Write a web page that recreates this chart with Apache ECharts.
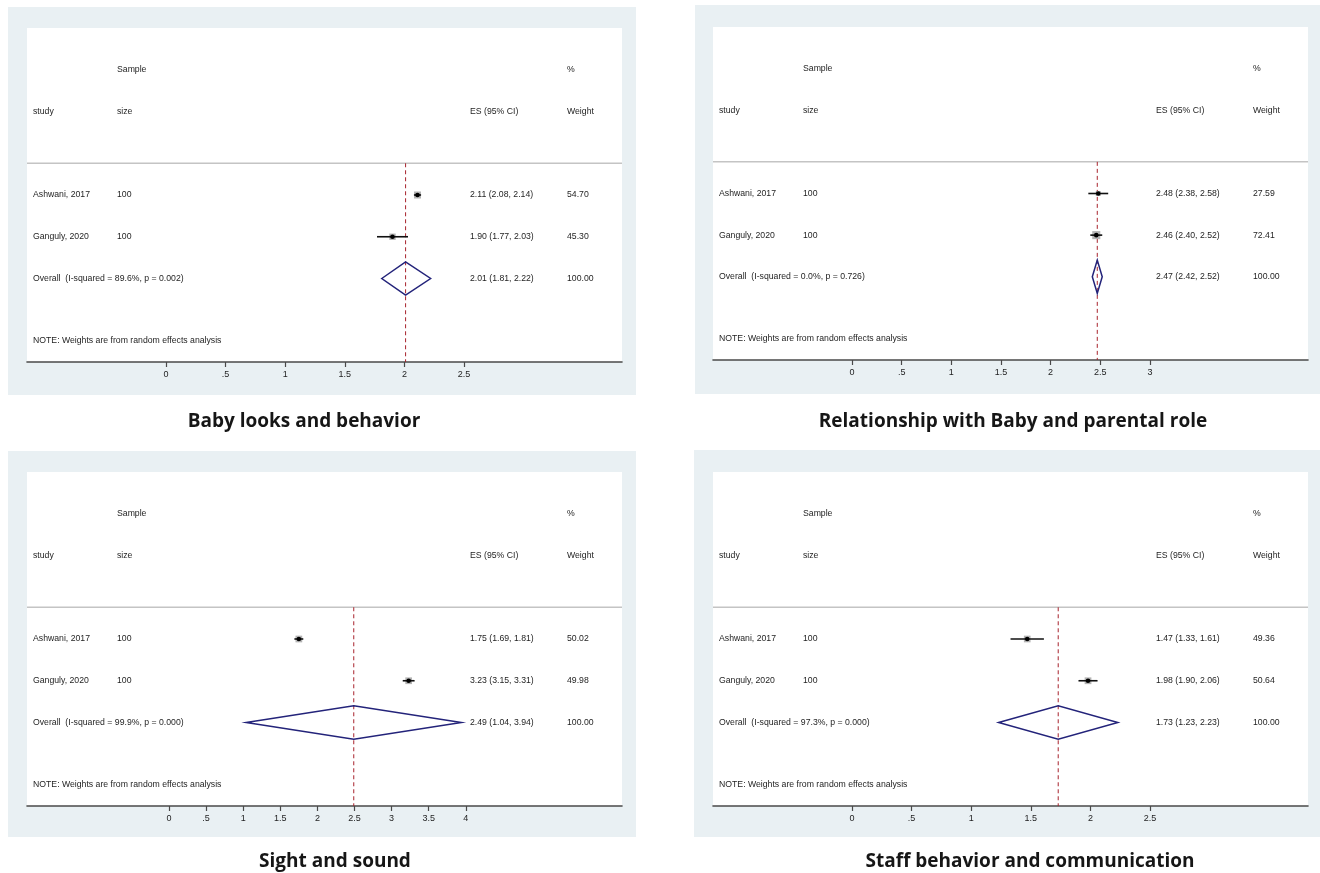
<!DOCTYPE html>
<html>
<head>
<meta charset="utf-8">
<script src="https://cdn.jsdelivr.net/npm/echarts@6/dist/echarts.min.js"></script>
<style>
  html, body { margin: 0; padding: 0; background: #ffffff; }
  #chart { width: 1320px; height: 873px; }
</style>
</head>
<body>
<div id="chart"></div>
<script>
// ---- data -------------------------------------------------------------
const studyNames = ['Ashwani, 2017', 'Ganguly, 2020'];
const sampleSizes = [100, 100];

// [ES, lower 95% CI, upper 95% CI] per study
const babyLooksEffects = [[2.11, 2.08, 2.14], [1.90, 1.77, 2.03]];
const babyLooksWeights = [54.70, 45.30];
const babyLooksPooled = [2.01, 1.81, 2.22];
const babyLooksHeterogeneity = ['89.6%', '0.002'];
const babyLooksTicks = [0, 0.5, 1, 1.5, 2, 2.5];

const relationshipEffects = [[2.48, 2.38, 2.58], [2.46, 2.40, 2.52]];
const relationshipWeights = [27.59, 72.41];
const relationshipPooled = [2.47, 2.42, 2.52];
const relationshipHeterogeneity = ['0.0%', '0.726'];
const relationshipTicks = [0, 0.5, 1, 1.5, 2, 2.5, 3];

const sightSoundEffects = [[1.75, 1.69, 1.81], [3.23, 3.15, 3.31]];
const sightSoundWeights = [50.02, 49.98];
const sightSoundPooled = [2.49, 1.04, 3.94];
const sightSoundHeterogeneity = ['99.9%', '0.000'];
const sightSoundTicks = [0, 0.5, 1, 1.5, 2, 2.5, 3, 3.5, 4];

const staffEffects = [[1.47, 1.33, 1.61], [1.98, 1.90, 2.06]];
const staffWeights = [49.36, 50.64];
const staffPooled = [1.73, 1.23, 2.23];
const staffHeterogeneity = ['97.3%', '0.000'];
const staffTicks = [0, 0.5, 1, 1.5, 2, 2.5];

const panelTitles = [
  'Baby looks and behavior',
  'Relationship with Baby and parental role',
  'Sight and sound',
  'Staff behavior and communication'
];

// ---- layout -----------------------------------------------------------
const panels = [
  { effects: babyLooksEffects, weights: babyLooksWeights, pooled: babyLooksPooled,
    het: babyLooksHeterogeneity, ticks: babyLooksTicks,
    box: [8, 7, 628, 388], grid: [27, 28, 595, 334], zeroOffset: 139, pxPerUnit: 119.2, titlePos: [304, 422] },
  { effects: relationshipEffects, weights: relationshipWeights, pooled: relationshipPooled,
    het: relationshipHeterogeneity, ticks: relationshipTicks,
    box: [695, 5, 625, 389], grid: [713, 27, 595, 333], zeroOffset: 139, pxPerUnit: 99.3, titlePos: [1013, 422] },
  { effects: sightSoundEffects, weights: sightSoundWeights, pooled: sightSoundPooled,
    het: sightSoundHeterogeneity, ticks: sightSoundTicks,
    box: [8, 451, 628, 386], grid: [27, 472, 595, 334], zeroOffset: 142, pxPerUnit: 74.2, titlePos: [335, 862] },
  { effects: staffEffects, weights: staffWeights, pooled: staffPooled,
    het: staffHeterogeneity, ticks: staffTicks,
    box: [694, 450, 626, 387], grid: [713, 472, 595, 334], zeroOffset: 139, pxPerUnit: 119.2, titlePos: [1030, 862] }
];

// rows on the vertical scale (one unit per table line)
const ROW_TOP_HEADER = -3, ROW_HEADER = -2, ROW_RULE = -0.76, ROW_NOTE = 3.48;
const ROW_MIN = -4, ROW_MAX = 4;
// table column offsets from the plot region's left edge
const COL_STUDY = 6, COL_SIZE = 90, COL_ES = 443, COL_WEIGHT = 540;

const TABLE_FONT = '8.7px "Liberation Sans", Arial, sans-serif';
const TEXT_COLOR = '#1e1e1e';

const fmt2 = v => v.toFixed(2);
const esText = e => `${fmt2(e[0])} (${fmt2(e[1])}, ${fmt2(e[2])})`;
const tickLabel = v => String(v).replace(/^0\./, '.');

const chart = echarts.init(document.getElementById('chart'), null, { renderer: 'canvas' });

const grids = [], xAxes = [], yAxes = [], series = [], graphics = [];

panels.forEach((p, i) => {
  const [gl, gt, gw, gh] = p.grid;
  graphics.push({
    type: 'rect', z: -10, silent: true,
    shape: { x: p.box[0], y: p.box[1], width: p.box[2], height: p.box[3] },
    style: { fill: '#e9f0f3' }
  });
  graphics.push({
    type: 'text', silent: true,
    x: p.titlePos[0], y: p.titlePos[1],
    style: {
      text: panelTitles[i], fill: '#161616',
      font: 'bold 19px "Open Sans", "Noto Sans", sans-serif',
      align: 'center', verticalAlign: 'middle'
    }
  });

  grids.push({
    left: gl, top: gt, width: gw, height: gh,
    show: true, backgroundColor: '#ffffff', borderWidth: 0
  });
  xAxes.push({
    type: 'value', gridIndex: i, position: 'bottom',
    min: -p.zeroOffset / p.pxPerUnit,
    max: (gw - p.zeroOffset) / p.pxPerUnit,
    axisLine: { show: true, onZero: false, lineStyle: { color: '#4a4a4a', width: 1.6 } },
    axisTick: { show: true, customValues: p.ticks, length: 5, inside: false,
                lineStyle: { color: '#4a4a4a', width: 1.2 } },
    axisLabel: { show: true, customValues: p.ticks, formatter: tickLabel, margin: 8,
                 color: TEXT_COLOR, fontSize: 9, fontFamily: '"Liberation Sans", Arial, sans-serif' },
    splitLine: { show: false }
  });
  yAxes.push({
    type: 'value', gridIndex: i, min: ROW_MIN, max: ROW_MAX, inverse: true, show: false
  });

  const axisRef = { xAxisIndex: i, yAxisIndex: i };

  // rule under the column headings
  series.push(Object.assign({
    type: 'custom', silent: true, animation: false, z: 1,
    data: [[0, ROW_RULE]],
    renderItem: (params, api) => {
      const cs = params.coordSys;
      const y = api.coord([0, api.value(1)])[1];
      return { type: 'line', shape: { x1: cs.x, y1: y, x2: cs.x + cs.width, y2: y },
               style: { stroke: '#c4c4c4', lineWidth: 1.5 } };
    }
  }, axisRef));

  // dashed line at the pooled estimate
  series.push(Object.assign({
    type: 'custom', silent: true, animation: false, z: 2,
    data: [[p.pooled[0], ROW_RULE, ROW_MAX]],
    renderItem: (params, api) => {
      const a = api.coord([api.value(0), api.value(1)]);
      const b = api.coord([api.value(0), api.value(2)]);
      return { type: 'line', shape: { x1: a[0], y1: a[1], x2: b[0], y2: b[1] },
               style: { stroke: '#a8232c', lineWidth: 1, lineDash: [4, 3] } };
    }
  }, axisRef));

  // study estimates: weight box, CI line, point
  series.push(Object.assign({
    type: 'custom', silent: true, animation: false, z: 3,
    data: p.effects.map((e, r) => [e[0], e[1], e[2], p.weights[r], r]),
    renderItem: (params, api) => {
      const es = api.value(0), lo = api.value(1), hi = api.value(2), w = api.value(3), row = api.value(4);
      const c = api.coord([es, row]);
      const l = api.coord([lo, row]);
      const h = api.coord([hi, row]);
      const side = Math.sqrt(w) * 0.95;
      return { type: 'group', children: [
        { type: 'rect', shape: { x: c[0] - side / 2, y: c[1] - side / 2, width: side, height: side },
          style: { fill: '#b4b4b4' } },
        { type: 'line', shape: { x1: l[0], y1: l[1], x2: h[0], y2: h[1] },
          style: { stroke: '#111111', lineWidth: 1.6 } },
        { type: 'circle', shape: { cx: c[0], cy: c[1], r: 2.3 }, style: { fill: '#000000' } }
      ] };
    }
  }, axisRef));

  // pooled estimate diamond
  series.push(Object.assign({
    type: 'custom', silent: true, animation: false, z: 4,
    data: [[p.pooled[0], p.pooled[1], p.pooled[2], p.effects.length]],
    renderItem: (params, api) => {
      const es = api.value(0), lo = api.value(1), hi = api.value(2), row = api.value(3);
      const pts = [api.coord([lo, row]), api.coord([es, row - 0.4]),
                   api.coord([hi, row]), api.coord([es, row + 0.4])];
      return { type: 'polygon', shape: { points: pts },
               style: { fill: 'none', stroke: '#23237a', lineWidth: 1.5 } };
    }
  }, axisRef));

  // table text
  const lines = [];
  lines.push([ROW_TOP_HEADER, COL_SIZE, 'Sample']);
  lines.push([ROW_TOP_HEADER, COL_WEIGHT, '%']);
  lines.push([ROW_HEADER, COL_STUDY, 'study']);
  lines.push([ROW_HEADER, COL_SIZE, 'size']);
  lines.push([ROW_HEADER, COL_ES, 'ES (95% CI)']);
  lines.push([ROW_HEADER, COL_WEIGHT, 'Weight']);
  p.effects.forEach((e, r) => {
    lines.push([r, COL_STUDY, studyNames[r]]);
    lines.push([r, COL_SIZE, String(sampleSizes[r])]);
    lines.push([r, COL_ES, esText(e)]);
    lines.push([r, COL_WEIGHT, fmt2(p.weights[r])]);
  });
  const pr = p.effects.length;
  const totalWeight = p.weights.reduce((a, b) => a + b, 0);
  lines.push([pr, COL_STUDY, `Overall  (I-squared = ${p.het[0]}, p = ${p.het[1]})`]);
  lines.push([pr, COL_ES, esText(p.pooled)]);
  lines.push([pr, COL_WEIGHT, fmt2(totalWeight)]);
  lines.push([ROW_NOTE, COL_STUDY, 'NOTE: Weights are from random effects analysis']);

  series.push(Object.assign({
    type: 'custom', silent: true, animation: false, z: 5,
    data: lines.map((ln, k) => [0, ln[0], k]),
    renderItem: (params, api) => {
      const cs = params.coordSys;
      const ln = lines[api.value(2)];
      const y = api.coord([0, api.value(1)])[1];
      return { type: 'text', x: cs.x + ln[1], y: y,
               style: { text: ln[2], fill: TEXT_COLOR, font: TABLE_FONT,
                        align: 'left', verticalAlign: 'middle' } };
    }
  }, axisRef));
});

chart.setOption({
  animation: false,
  backgroundColor: '#ffffff',
  graphic: { elements: graphics },
  grid: grids,
  xAxis: xAxes,
  yAxis: yAxes,
  series: series
});
</script>
</body>
</html>
